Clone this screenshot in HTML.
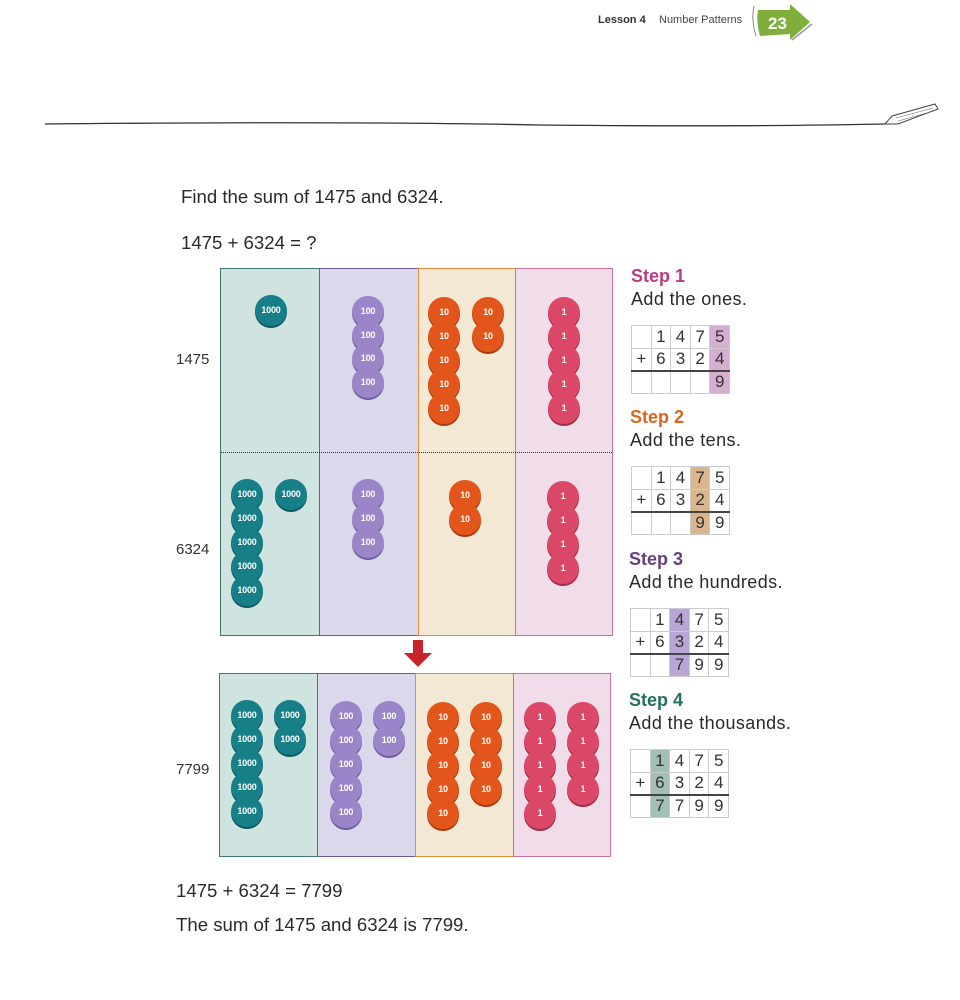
<!DOCTYPE html>
<html><head><meta charset="utf-8"><style>
*{margin:0;padding:0;box-sizing:border-box}
body{width:960px;height:1000px;background:#fff;position:relative;overflow:hidden;font-family:"Liberation Sans",sans-serif;color:#333}
.a{position:absolute}
.t{position:absolute;font-size:18.6px;color:#2a2a2a;white-space:nowrap}
.col{position:absolute;border:1.5px solid}
.c{position:absolute;width:32px;height:31px;margin:-15px 0 0 -16px;border-radius:50%;color:#fff;font-size:9px;font-weight:bold;text-align:center;line-height:31px;letter-spacing:-0.2px}
.th{background:#177f88;box-shadow:0 2px 0 #0d5a60}
.hu{background:#9a85c8;box-shadow:0 2px 0 #6f5c9c}
.te{background:#e2561c;box-shadow:0 2px 0 #a83c10}
.on{background:#dc4868;box-shadow:0 2px 0 #a32c48}
.lab{position:absolute;font-size:15px;color:#333}
.step{position:absolute;font-size:18px;font-weight:bold}
.sub{position:absolute;font-size:18px;letter-spacing:.4px;color:#2a2a2a;white-space:nowrap}
table{position:absolute;border-collapse:collapse}
td{width:19.6px;height:22.6px;border:1px solid #ccc;text-align:center;font-size:17px;color:#333;padding:0;line-height:20px}
tr.r2 td{border-bottom:2px solid #444}
</style></head><body>

<div class="t" style="left:598px;top:14px;font-size:11px;font-weight:bold;color:#333">Lesson 4</div>
<div class="t" style="left:659px;top:14px;font-size:11px;color:#444">Number Patterns</div>
<svg class="a" style="left:748px;top:2px" width="70" height="42">
<path d="M6 4 Q3 18 8 34" stroke="#888" fill="none" stroke-width="1"/>
<path d="M10 8 L42 8 L42 2 L62 20 L42 38 L42 32 L12 34 Q8 20 10 8Z" fill="#7fae3a"/>
<path d="M44 38 L64 22" stroke="#999" stroke-width="1.5"/>
<text x="20" y="27" font-family="Liberation Sans" font-weight="bold" font-size="17" fill="#fff">23</text>
</svg>
<svg class="a" style="left:40px;top:100px" width="900" height="35">
<path d="M5 24 Q300 21 500 25 Q700 27 845 24" stroke="#333" fill="none" stroke-width="1.3"/>
<path d="M845 24 L852 16 L895 4 L898 9 L858 24 Z" stroke="#444" fill="none" stroke-width="1"/>
<path d="M856 18 L893 8 M858 21 L894 11" stroke="#666" stroke-width=".6"/>
</svg>

<div class="t" style="left:181px;top:186px">Find the sum of 1475 and 6324.</div>
<div class="t" style="left:181px;top:232px">1475 + 6324 = ?</div>

<!-- top panel -->
<div class="col" style="left:220px;top:268px;width:100px;height:368px;background:#cfe3e0;border-color:#3c7a72"></div>
<div class="col" style="left:319px;top:268px;width:100px;height:368px;background:#dcd8ec;border-color:#6d5a93"></div>
<div class="col" style="left:418px;top:268px;width:98px;height:368px;background:#f2e8d4;border-color:#e48b3c"></div>
<div class="col" style="left:515px;top:268px;width:98px;height:368px;background:#f1dde9;border-color:#c8729f"></div>
<div class="a" style="left:221px;top:452px;width:391px;border-top:1px dotted #333"></div>
<div class="lab" style="left:176px;top:351px">1475</div>
<div class="lab" style="left:176px;top:541px">6324</div>
<div class="lab" style="left:176px;top:761px">7799</div>

<div class="c th" style="left:271px;top:310px">1000</div>
<div class="c hu" style="left:368px;top:311px">100</div><div class="c hu" style="left:368px;top:335px">100</div><div class="c hu" style="left:368px;top:358px">100</div><div class="c hu" style="left:368px;top:382px">100</div>
<div class="c te" style="left:444px;top:312px">10</div><div class="c te" style="left:444px;top:336px">10</div><div class="c te" style="left:444px;top:360px">10</div><div class="c te" style="left:444px;top:384px">10</div><div class="c te" style="left:444px;top:408px">10</div>
<div class="c te" style="left:488px;top:312px">10</div><div class="c te" style="left:488px;top:336px">10</div>
<div class="c on" style="left:564px;top:312px">1</div><div class="c on" style="left:564px;top:336px">1</div><div class="c on" style="left:564px;top:360px">1</div><div class="c on" style="left:564px;top:384px">1</div><div class="c on" style="left:564px;top:408px">1</div>

<div class="c th" style="left:247px;top:494px">1000</div><div class="c th" style="left:247px;top:518px">1000</div><div class="c th" style="left:247px;top:542px">1000</div><div class="c th" style="left:247px;top:566px">1000</div><div class="c th" style="left:247px;top:590px">1000</div>
<div class="c th" style="left:291px;top:494px">1000</div>
<div class="c hu" style="left:368px;top:494px">100</div><div class="c hu" style="left:368px;top:518px">100</div><div class="c hu" style="left:368px;top:542px">100</div>
<div class="c te" style="left:465px;top:495px">10</div><div class="c te" style="left:465px;top:519px">10</div>
<div class="c on" style="left:563px;top:496px">1</div><div class="c on" style="left:563px;top:520px">1</div><div class="c on" style="left:563px;top:544px">1</div><div class="c on" style="left:563px;top:568px">1</div>

<!-- arrow -->
<svg class="a" style="left:403px;top:640px" width="30" height="28"><path d="M10 0 H20 V13 H29 L15 27 L1 13 H10Z" fill="#c8222a"/></svg>

<!-- bottom panel -->
<div class="col" style="left:219px;top:673px;width:99px;height:184px;background:#cfe3e0;border-color:#3c7a72"></div>
<div class="col" style="left:317px;top:673px;width:99px;height:184px;background:#dcd8ec;border-color:#6d5a93"></div>
<div class="col" style="left:415px;top:673px;width:99px;height:184px;background:#f2e8d4;border-color:#e48b3c"></div>
<div class="col" style="left:513px;top:673px;width:98px;height:184px;background:#f1dde9;border-color:#c8729f"></div>

<div class="c th" style="left:247px;top:715px">1000</div><div class="c th" style="left:247px;top:739px">1000</div><div class="c th" style="left:247px;top:763px">1000</div><div class="c th" style="left:247px;top:787px">1000</div><div class="c th" style="left:247px;top:811px">1000</div>
<div class="c th" style="left:290px;top:715px">1000</div><div class="c th" style="left:290px;top:739px">1000</div>
<div class="c hu" style="left:346px;top:716px">100</div><div class="c hu" style="left:346px;top:740px">100</div><div class="c hu" style="left:346px;top:764px">100</div><div class="c hu" style="left:346px;top:788px">100</div><div class="c hu" style="left:346px;top:812px">100</div>
<div class="c hu" style="left:389px;top:716px">100</div><div class="c hu" style="left:389px;top:740px">100</div>
<div class="c te" style="left:443px;top:717px">10</div><div class="c te" style="left:443px;top:741px">10</div><div class="c te" style="left:443px;top:765px">10</div><div class="c te" style="left:443px;top:789px">10</div><div class="c te" style="left:443px;top:813px">10</div>
<div class="c te" style="left:486px;top:717px">10</div><div class="c te" style="left:486px;top:741px">10</div><div class="c te" style="left:486px;top:765px">10</div><div class="c te" style="left:486px;top:789px">10</div>
<div class="c on" style="left:540px;top:717px">1</div><div class="c on" style="left:540px;top:741px">1</div><div class="c on" style="left:540px;top:765px">1</div><div class="c on" style="left:540px;top:789px">1</div><div class="c on" style="left:540px;top:813px">1</div>
<div class="c on" style="left:583px;top:717px">1</div><div class="c on" style="left:583px;top:741px">1</div><div class="c on" style="left:583px;top:765px">1</div><div class="c on" style="left:583px;top:789px">1</div>

<!-- steps -->
<div class="step" style="left:631px;top:266px;color:#b83d82">Step 1</div>
<div class="sub" style="left:631px;top:289px">Add the ones.</div>
<table style="left:631px;top:325px">
<tr><td></td><td>1</td><td>4</td><td>7</td><td style="background:#d6aed2">5</td></tr>
<tr class="r2"><td>+</td><td>6</td><td>3</td><td>2</td><td style="background:#d6aed2">4</td></tr>
<tr><td></td><td></td><td></td><td></td><td style="background:#d6aed2">9</td></tr></table>

<div class="step" style="left:630px;top:407px;color:#d9661e">Step 2</div>
<div class="sub" style="left:630px;top:430px">Add the tens.</div>
<table style="left:631px;top:466px">
<tr><td></td><td>1</td><td>4</td><td style="background:#dbb68c">7</td><td>5</td></tr>
<tr class="r2"><td>+</td><td>6</td><td>3</td><td style="background:#dbb68c">2</td><td>4</td></tr>
<tr><td></td><td></td><td></td><td style="background:#dbb68c">9</td><td>9</td></tr></table>

<div class="step" style="left:629px;top:549px;color:#65407e">Step 3</div>
<div class="sub" style="left:629px;top:572px">Add the hundreds.</div>
<table style="left:630px;top:608px">
<tr><td></td><td>1</td><td style="background:#b9a6d6">4</td><td>7</td><td>5</td></tr>
<tr class="r2"><td>+</td><td>6</td><td style="background:#b9a6d6">3</td><td>2</td><td>4</td></tr>
<tr><td></td><td></td><td style="background:#b9a6d6">7</td><td>9</td><td>9</td></tr></table>

<div class="step" style="left:629px;top:690px;color:#23705f">Step 4</div>
<div class="sub" style="left:629px;top:713px">Add the thousands.</div>
<table style="left:630px;top:749px">
<tr><td></td><td style="background:#a3c0b4">1</td><td>4</td><td>7</td><td>5</td></tr>
<tr class="r2"><td>+</td><td style="background:#a3c0b4">6</td><td>3</td><td>2</td><td>4</td></tr>
<tr><td></td><td style="background:#a3c0b4">7</td><td>7</td><td>9</td><td>9</td></tr></table>

<div class="t" style="left:176px;top:880px">1475 + 6324 = 7799</div>
<div class="t" style="left:176px;top:914px">The sum of 1475 and 6324 is 7799.</div>
</body></html>
